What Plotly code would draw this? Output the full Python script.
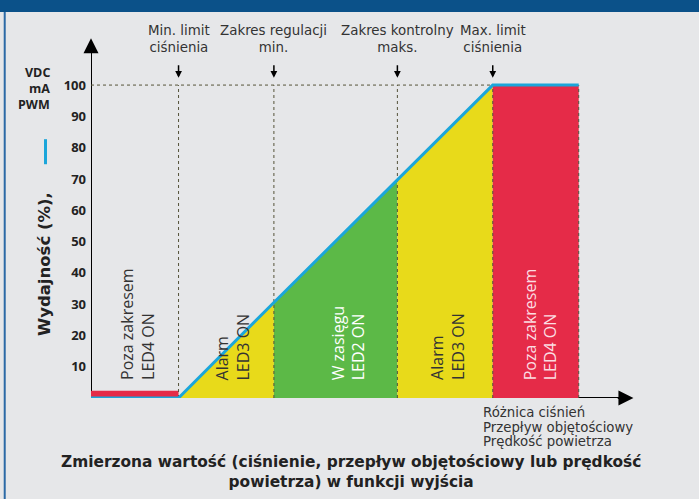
import plotly.graph_objects as go

# ---- data ----
bounds = [0, 28, 58.5, 98, 128.5, 156]          # measured value breakpoints
output = [0, 0, 30.5, 69.8, 100, 100]          # output (%) at each breakpoint
low_band = 2.3                                   # height of red band below min limit
region_colors = ['#e52b48', '#e8da1a', '#5cb947', '#e8da1a', '#e52b48']
region_labels = ['Poza zakresem<br>LED4 ON', 'Alarm<br>LED3 ON', 'W zasięgu<br>LED2 ON',
                 'Alarm<br>LED3 ON', 'Poza zakresem<br>LED4 ON']
region_label_x = [14.9, 45.3, 82.2, 114.2, 143.6]
region_text_colors = ['#333333', '#333333', '#ffffff', '#333333', '#fbdde2']
limit_labels = ['Min. limit<br>ciśnienia', 'Zakres regulacji<br>min.',
                'Zakres kontrolny<br>maks.', 'Max. limit<br>ciśnienia']
limit_x = bounds[1:5]
y_ticks = [10, 20, 30, 40, 50, 60, 70, 80, 90, 100]
unit_labels = ['VDC', 'mA', 'PWM']
x_axis_lines = ['Różnica ciśnień', 'Przepływ objętościowy', 'Prędkość powietrza']
y_title = 'Wydajność (%),'
caption = 'Zmierzona wartość (ciśnienie, przepływ objętościowy lub prędkość<br>powietrza) w funkcji wyjścia'

X_MAX, Y_MAX = 174, 116
BG = '#e6e7e9'
BLUE = '#1ba6da'

fig = go.Figure()

# region fills
for i in range(5):
    x0, x1 = bounds[i], bounds[i + 1]
    if i == 0:
        ys = [0, 0, low_band, low_band]
    elif i == 4:
        ys = [0, 0, output[5], output[4]]
    else:
        ys = [0, 0, output[i + 1], output[i]]
    fig.add_trace(go.Scatter(x=[x0, x1, x1, x0, x0], y=ys + [ys[0]], fill='toself',
                             fillcolor=region_colors[i], mode='none', hoverinfo='skip'))

# dotted guides
dot = dict(color='#55533a', width=1, dash='dot')
fig.add_trace(go.Scatter(x=[bounds[0], bounds[4]], y=[output[4], output[4]], mode='lines', line=dot))
for b in bounds[1:]:
    fig.add_trace(go.Scatter(x=[b, b], y=[0, output[4]], mode='lines', line=dot))

# output line
fig.add_trace(go.Scatter(x=bounds, y=output, mode='lines', line=dict(color=BLUE, width=3)))

shapes = [
    # axes lines
    dict(type='line', xref='x', yref='y', x0=0, x1=X_MAX - 4, y0=0, y1=0,
         line=dict(color='black', width=2), layer='below'),
    dict(type='line', xref='x', yref='y', x0=0, x1=0, y0=0, y1=Y_MAX - 5,
         line=dict(color='black', width=2), layer='below'),
    # top banner
    dict(type='rect', xref='paper', yref='paper', x0=-0.3, x1=1.2, y0=1.0634, y1=1.2,
         fillcolor='#0b5189', line=dict(width=0), layer='above'),
    # left frame line
    dict(type='line', xref='paper', yref='paper', x0=-0.1586, x1=-0.1586, y0=-0.35, y1=1.0634,
         line=dict(color='#2c6aa6', width=2)),
    # blue legend tick
    dict(type='line', xref='paper', yref='paper', x0=-0.0836, x1=-0.0836, y0=0.644, y1=0.713,
         line=dict(color=BLUE, width=3)),
]

ann = []
# axis arrowheads
ann.append(dict(x=X_MAX - 0.5, y=0, ax=X_MAX - 6, ay=0, xref='x', yref='y', axref='x', ayref='y',
                text='', showarrow=True, arrowhead=2, arrowsize=1.5, arrowwidth=2, arrowcolor='black'))
ann.append(dict(x=0, y=Y_MAX - 1, ax=0, ay=Y_MAX - 6, xref='x', yref='y', axref='x', ayref='y',
                text='', showarrow=True, arrowhead=2, arrowsize=1.5, arrowwidth=2, arrowcolor='black'))

# limit labels + small arrows
for lx, lt in zip(limit_x, limit_labels):
    ann.append(dict(x=lx, y=0.989, xref='x', yref='paper', text=lt, showarrow=False,
                    xanchor='center', yanchor='middle',
                    font=dict(family='DejaVu Sans', size=13.4, color='#333333')))
    ann.append(dict(x=lx, y=102.3, xref='x', yref='y', ax=0, ay=-14, text='', showarrow=True,
                    arrowhead=2, arrowsize=0.9, arrowwidth=1.5, arrowcolor='black', standoff=0))

# region labels
for lx, lt, lc in zip(region_label_x, region_labels, region_text_colors):
    ann.append(dict(x=lx, y=5, xref='x', yref='y', text=lt, showarrow=False, textangle=-90,
                    xanchor='center', yanchor='bottom', align='left',
                    font=dict(family='Open Sans', size=16, color=lc)))

# unit labels
for k, u in enumerate(unit_labels):
    ann.append(dict(x=-0.071, y=(398 - 72 - 16 * k) / 363, xref='paper', yref='paper', text=u,
                    showarrow=False, xanchor='right', yanchor='middle',
                    font=dict(family='Open Sans', size=12.5, color='#222222', weight='bold')))

# y title
ann.append(dict(x=-0.0864, y=0.369, xref='paper', yref='paper', text=y_title, showarrow=False,
                textangle=-90, xanchor='center', yanchor='middle',
                font=dict(family='DejaVu Sans', size=16.5, color='#222222', weight='bold')))

# x axis quantity lines
for k, t in enumerate(x_axis_lines):
    ann.append(dict(x=124.8, y=-(412 + 15 * k - 398) / 363, xref='x', yref='paper', text=t,
                    showarrow=False, xanchor='left', yanchor='middle',
                    font=dict(family='DejaVu Sans', size=13.3, color='#333333')))

# caption
ann.append(dict(x=0.478, y=-0.205, xref='paper', yref='paper', text=caption, showarrow=False,
                xanchor='center', yanchor='middle',
                font=dict(family='DejaVu Sans', size=15.4, color='#222222', weight='bold')))

fig.update_layout(
    width=699, height=499,
    margin=dict(l=91, r=64, t=35, b=101),
    paper_bgcolor=BG, plot_bgcolor=BG,
    showlegend=False,
    shapes=shapes, annotations=ann,
    xaxis=dict(range=[0, X_MAX], showgrid=False, zeroline=False, showticklabels=False,
               showline=False, fixedrange=True),
    yaxis=dict(range=[0, Y_MAX], showgrid=False, zeroline=False, showline=False,
               tickvals=y_ticks, ticktext=[str(v) for v in y_ticks], ticks='',
               ticklabelstandoff=4,
               tickfont=dict(family='Open Sans', size=13, color='#222222', weight='bold'),
               fixedrange=True),
)

fig.write_html('out.html', config={'displayModeBar': False},
               post_script="document.body.style.margin='0';document.body.style.background='" + BG + "';")
